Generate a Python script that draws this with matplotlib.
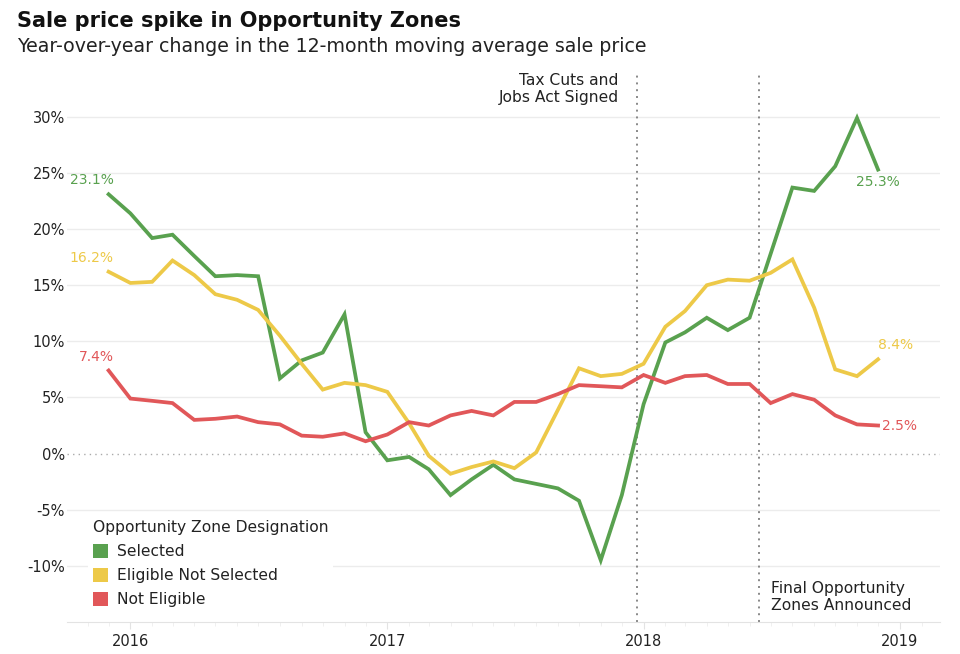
import pandas as pd
import matplotlib
matplotlib.use("Agg")
import matplotlib.pyplot as plt
import matplotlib.dates as mdates
from matplotlib.patches import Patch

plt.rcParams["font.family"] = ["DejaVu Sans"]

# monthly, Dec 2015 .. Dec 2018
MONTHS = pd.date_range("2015-12-01", "2018-12-01", freq="MS")

SELECTED = [23.1, 21.4, 19.2, 19.5, 17.6, 15.8, 15.9, 15.8, 6.7, 8.3, 9.0, 12.4, 1.9,
            -0.6, -0.3, -1.4, -3.7, -2.3, -1.0, -2.3, -2.7, -3.1, -4.2, -9.5, -3.7,
            4.4, 9.9, 10.8, 12.1, 11.0, 12.1, 17.8, 23.7, 23.4, 25.6, 29.9, 25.3]
ELIGIBLE = [16.2, 15.2, 15.3, 17.2, 15.9, 14.2, 13.7, 12.8, 10.5, 8.0, 5.7, 6.3, 6.1,
            5.5, 2.7, -0.2, -1.8, -1.2, -0.7, -1.3, 0.1, 3.9, 7.6, 6.9, 7.1,
            8.0, 11.3, 12.7, 15.0, 15.5, 15.4, 16.1, 17.3, 13.0, 7.5, 6.9, 8.4]
NOT_ELIGIBLE = [7.4, 4.9, 4.7, 4.5, 3.0, 3.1, 3.3, 2.8, 2.6, 1.6, 1.5, 1.8, 1.1,
                1.7, 2.8, 2.5, 3.4, 3.8, 3.4, 4.6, 4.6, 5.3, 6.1, 6.0, 5.9,
                7.0, 6.3, 6.9, 7.0, 6.2, 6.2, 4.5, 5.3, 4.8, 3.4, 2.6, 2.5]

SERIES = ["Selected", "Eligible Not Selected", "Not Eligible"]
COLORS = ["#59A14F", "#EDC948", "#E15759"]

EVENTS = [pd.Timestamp("2017-12-22"), pd.Timestamp("2018-06-14")]
EVENT_TEXT = ["Tax Cuts and\nJobs Act Signed", "Final Opportunity\nZones Announced"]

YTICKS = [-10, -5, 0, 5, 10, 15, 20, 25, 30]
TEXT = "#222222"
FS = 10.5     # numbers
FS_T = 11.2   # words

fig = plt.figure(figsize=(9.6, 6.54), dpi=100)
ax = fig.add_axes([0.070, 0.049, 0.909, 0.841])

for s in ax.spines.values():
    s.set_visible(False)
ax.spines["bottom"].set_visible(True)
ax.spines["bottom"].set_color("#e3e3e3")

for y in YTICKS:
    if y == 0:
        ax.axhline(0, color="#aaaaaa", lw=1, ls=(0, (1, 3)), zorder=1)
    else:
        ax.axhline(y, color="#ececec", lw=1, zorder=0)

for d in EVENTS:
    ax.axvline(d, color="#888888", lw=1.4, ls=(0, (1, 2.5)), zorder=1)

data = [SELECTED, ELIGIBLE, NOT_ELIGIBLE]
for vals, c in zip(data, COLORS):
    ax.plot(MONTHS, vals, color=c, lw=2.7, solid_joinstyle="miter", zorder=3)

# start labels
for vals, c in zip(data, COLORS):
    ax.annotate(f"{vals[0]:.1f}%", (MONTHS[0], vals[0]), xytext=(3.5, 5),
                textcoords="offset points", ha="right", va="bottom",
                color=c, fontsize=10)
# end labels
ax.annotate(f"{SELECTED[-1]:.1f}%", (MONTHS[-1], SELECTED[-1]), xytext=(0, -4),
            textcoords="offset points", ha="center", va="top",
            color=COLORS[0], fontsize=10)
ax.annotate(f"{ELIGIBLE[-1]:.1f}%", (MONTHS[-1], ELIGIBLE[-1]), xytext=(0, 5),
            textcoords="offset points", ha="left", va="bottom",
            color=COLORS[1], fontsize=10)
ax.annotate(f"{NOT_ELIGIBLE[-1]:.1f}%", (MONTHS[-1], NOT_ELIGIBLE[-1]), xytext=(3, 0),
            textcoords="offset points", ha="left", va="center",
            color=COLORS[2], fontsize=10)

ax.annotate(EVENT_TEXT[0], (EVENTS[0], 33.9), xytext=(-13, 0),
            textcoords="offset points", ha="right", va="top",
            color=TEXT, fontsize=FS_T, linespacing=1.2)
ax.annotate(EVENT_TEXT[1], (EVENTS[1], -14.2), xytext=(9, 0),
            textcoords="offset points", ha="left", va="bottom",
            color=TEXT, fontsize=FS_T, linespacing=1.2)

ax.set_ylim(-15, 34)
ax.set_yticks(YTICKS)
ax.set_yticklabels([f"{y}%" for y in YTICKS])
ax.set_xlim(pd.Timestamp("2015-10-03"), pd.Timestamp("2019-02-27"))
ax.xaxis.set_major_locator(mdates.YearLocator())
ax.xaxis.set_major_formatter(mdates.DateFormatter("%Y"))
ax.xaxis.set_minor_locator(mdates.MonthLocator())
ax.tick_params(axis="y", length=0, pad=1.5, labelsize=FS, labelcolor=TEXT)
ax.tick_params(axis="x", which="major", length=5, color="#e3e3e3", pad=4,
               labelsize=FS, labelcolor=TEXT)
ax.tick_params(axis="x", which="minor", length=3, color="#eeeeee")

handles = [Patch(facecolor=c, edgecolor="none") for c in COLORS]
leg = ax.legend(handles, SERIES, title="Opportunity Zone Designation",
                loc="upper left", bbox_to_anchor=(0.024, 0.193),
                fontsize=FS_T, title_fontsize=FS_T, frameon=True,
                facecolor="white", edgecolor="none", framealpha=1,
                handlelength=1.0, handleheight=1.0, handletextpad=0.55,
                labelspacing=0.55, borderpad=0.3, borderaxespad=0)
leg._legend_box.align = "left"
for t in leg.get_texts():
    t.set_color(TEXT)
leg.get_title().set_color(TEXT)
leg.set_zorder(2)

fig.text(0.018, 0.968, "Sale price spike in Opportunity Zones", fontsize=15,
         fontweight="bold", color="#111111", va="center")
fig.text(0.018, 0.929, "Year-over-year change in the 12-month moving average sale price",
         fontsize=13.7, color=TEXT, va="center")

plt.savefig("out.png", dpi=100)
